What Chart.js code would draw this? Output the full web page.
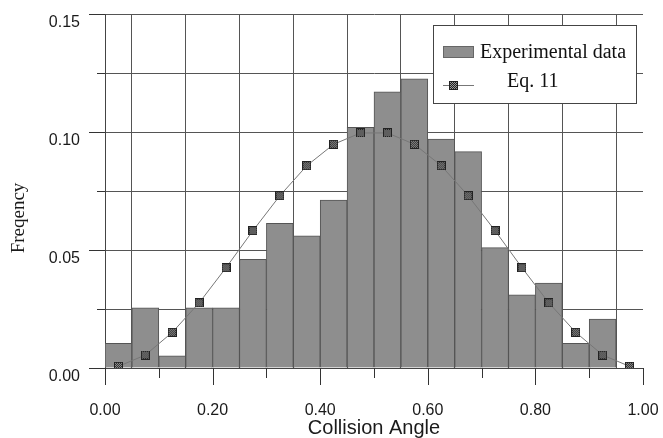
<!DOCTYPE html>
<html>
<head>
<meta charset="utf-8">
<script src="https://cdn.jsdelivr.net/npm/chart.js@4.4.1/dist/chart.umd.min.js"></script>
<style>
  html, body { margin: 0; padding: 0; background: #fff; }
  #wrap { width: 663px; height: 438px; }
</style>
</head>
<body>
<div id="wrap"><canvas id="chart" width="663" height="438"></canvas></div>
<script>
// bin centres of the collision angle histogram (bin width 0.05)
var binCenters = [0.025, 0.075, 0.125, 0.175, 0.225, 0.275, 0.325, 0.375, 0.425, 0.475,
                  0.525, 0.575, 0.625, 0.675, 0.725, 0.775, 0.825, 0.875, 0.925, 0.975];
var experimental = [0.0105, 0.0255, 0.0052, 0.0255, 0.0255, 0.046, 0.0613, 0.056, 0.0712, 0.102,
                    0.117, 0.1225, 0.097, 0.0917, 0.051, 0.031, 0.036, 0.0105, 0.0207, 0];
var eq11 = [0.0007, 0.0055, 0.0151, 0.0276, 0.0425, 0.0582, 0.073, 0.0857, 0.0948, 0.0996,
            0.0996, 0.0948, 0.0857, 0.073, 0.0582, 0.0425, 0.0276, 0.0151, 0.0055, 0.0007];
var seriesNames = ['Experimental data', 'Eq. 11'];
var xTitle = 'Collision Angle';
var yTitle = 'Freqency';

// checkered square marker
function makeMarker() {
  var c = document.createElement('canvas');
  c.width = 9; c.height = 9;
  var g = c.getContext('2d');
  g.fillStyle = '#222';
  g.fillRect(0, 0, 9, 9);
  g.fillStyle = '#9a9a9a';
  for (var i = 1; i < 8; i++) {
    for (var j = 1; j < 8; j++) {
      if ((i + j) % 2 === 0) g.fillRect(i, j, 1, 1);
    }
  }
  return c;
}
var marker = makeMarker();

var barColor = '#8e8e8e';

// fixed axis boxes, no extra label padding
function fixBox(size) {
  return function (s) {
    if (s.isHorizontal()) s.height = size; else s.width = size;
    s.paddingLeft = s.paddingRight = s.paddingTop = s.paddingBottom = 0;
  };
}

var extras = {
  id: 'extras',
  afterDraw: function (chart) {
    var ctx = chart.ctx;
    var xs = chart.scales.x, ys = chart.scales.y;
    ctx.save();
    // tick marks
    ctx.strokeStyle = '#333';
    ctx.lineWidth = 1;
    ctx.beginPath();
    xs.ticks.forEach(function (t) {
      var px = Math.round(xs.getPixelForValue(t.value)) + 0.5;
      var major = Math.round(t.value * 10) % 2 === 0;
      ctx.moveTo(px, xs.top);
      ctx.lineTo(px, xs.top + (major ? 17 : 10));
    });
    ys.ticks.forEach(function (t) {
      var py = Math.round(ys.getPixelForValue(t.value)) + 0.5;
      var major = Math.round(t.value / 0.025) % 2 === 0;
      ctx.moveTo(ys.right, py);
      ctx.lineTo(ys.right - (major ? 16 : 8), py);
    });
    ctx.stroke();

    // y title
    ctx.fillStyle = '#1a1a1a';
    ctx.font = '19px "Liberation Serif"';
    ctx.textAlign = 'center';
    ctx.textBaseline = 'middle';
    ctx.translate(19, 218);
    ctx.rotate(-Math.PI / 2);
    ctx.fillText(yTitle, 0, 0);
    ctx.setTransform(1, 0, 0, 1, 0, 0);

    // legend box
    var lx = 433, ly = 25, lw = 203, lh = 78;
    ctx.fillStyle = '#fff';
    ctx.fillRect(lx, ly, lw, lh);
    ctx.strokeStyle = '#444';
    ctx.strokeRect(lx + 0.5, ly + 0.5, lw, lh);
    ctx.fillStyle = barColor;
    ctx.fillRect(443, 46, 31, 12);
    ctx.strokeStyle = '#666';
    ctx.strokeRect(443.5, 46.5, 30, 11);
    ctx.strokeStyle = '#777';
    ctx.beginPath();
    ctx.moveTo(443, 85.5);
    ctx.lineTo(474, 85.5);
    ctx.stroke();
    ctx.drawImage(marker, 449, 81);
    ctx.fillStyle = '#111';
    ctx.font = '20px "Liberation Serif"';
    ctx.textAlign = 'left';
    ctx.textBaseline = 'alphabetic';
    ctx.fillText(seriesNames[0], 480, 58);
    ctx.fillText(seriesNames[1], 507, 87);
    ctx.restore();
  }
};

var ctx = document.getElementById('chart');

var chart = new Chart(ctx, {
  type: 'bar',
  data: {
    datasets: [
      {
        type: 'line',
        label: seriesNames[1],
        data: binCenters.map(function (x, i) { return { x: x, y: eq11[i] }; }),
        borderColor: '#777',
        borderWidth: 1,
        pointStyle: marker,
        pointRadius: 4,
        tension: 0,
        order: 0
      },
      {
        type: 'bar',
        label: seriesNames[0],
        data: binCenters.map(function (x, i) { return { x: x, y: experimental[i] }; }),
        backgroundColor: barColor,
        borderColor: '#555',
        borderWidth: 1,
        barPercentage: 1,
        categoryPercentage: 1,
        order: 1
      }
    ]
  },
  options: {
    responsive: false,
    animation: false,
    layout: { padding: { top: 14, right: 20, left: 0, bottom: 0 } },
    plugins: {
      legend: { display: false },
      tooltip: { enabled: false }
    },
    scales: {
      x: {
        type: 'linear',
        min: 0,
        max: 1,
        offset: false,
        afterFit: fixBox(70),
        grid: { color: '#555', drawTicks: false },
        border: { color: '#444' },
        ticks: {
          stepSize: 0.1,
          padding: 33,
          color: '#1a1a1a',
          font: { family: 'Liberation Sans', size: 16 },
          maxRotation: 0,
          autoSkip: false,
          callback: function (v) {
            return Math.round(v * 10) % 2 === 0 ? v.toFixed(2) : '';
          }
        },
        title: {
          display: true,
          text: xTitle,
          color: '#1a1a1a',
          font: { family: 'Liberation Sans', size: 20 },
          padding: { top: 0, bottom: -2 }
        }
      },
      y: {
        min: 0,
        max: 0.15,
        afterFit: fixBox(105),
        grid: { color: '#555', drawTicks: false },
        border: { color: '#444' },
        ticks: {
          stepSize: 0.025,
          padding: 25,
          labelOffset: 9,
          color: '#1a1a1a',
          font: { family: 'Liberation Sans', size: 16 },
          autoSkip: false,
          callback: function (v) {
            return Math.round(v / 0.025) % 2 === 0 ? v.toFixed(2) : '';
          }
        }
      }
    }
  },
  plugins: [extras]
});
</script>
</body>
</html>
